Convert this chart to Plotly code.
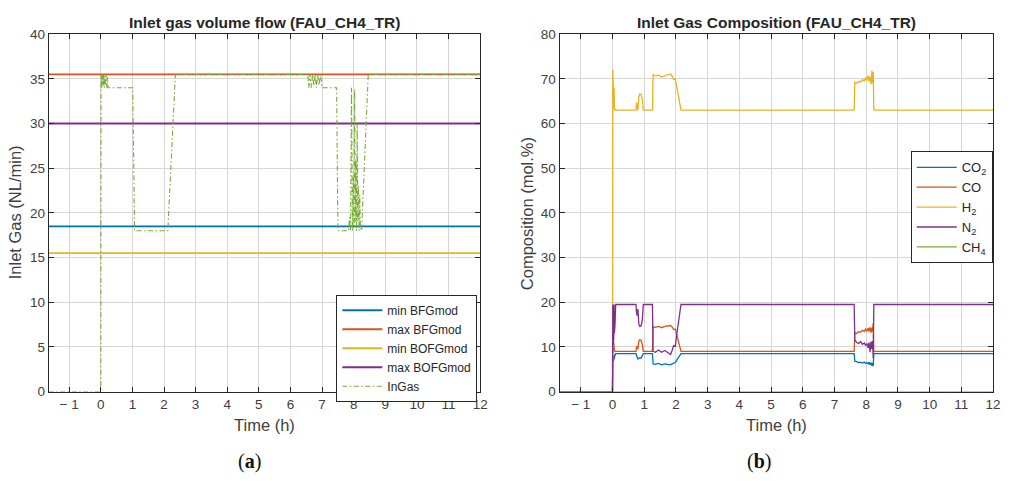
import plotly.graph_objects as go

# ---------------- data: left panel ----------------
x_range_left = [-1.65, 12]
const_names = ["min BFGmod", "max BFGmod", "min BOFGmod", "max BOFGmod"]
const_values = [18.5, 35.5, 15.5, 30.0]

t_in = [-1.65, 0.0, 0.01, 0.03, 0.05, 0.07, 0.09, 0.11, 0.13, 0.15, 0.17, 0.19, 0.21, 0.23, 0.26,
        1.01, 1.07, 2.12, 2.36, 6.55, 6.58, 6.62, 6.66, 6.70, 6.74, 6.78, 6.82, 6.86, 6.90, 6.95,
        7.00, 7.46, 7.50, 7.84, 7.87, 7.90, 7.93, 7.96, 7.99, 8.01, 8.03, 8.05, 8.07, 8.09, 8.11,
        8.13, 8.15, 8.17, 8.19, 8.21, 8.25, 8.46, 12.0]
v_in = [0, 0, 35.5, 34, 35.5, 34.2, 35.5, 34, 35.3, 34.4, 35.5, 34, 35.2, 34, 34,
        34, 18, 18, 35.5, 35.5, 34, 35.5, 34, 35.5, 34.2, 35.5, 34, 35.5, 34.3, 35.5,
        34, 34, 18, 18, 19.5, 18, 34, 18, 24, 18.5, 33.8, 19, 26, 18, 30,
        19, 23, 18, 22, 18.5, 18, 35.5, 35.5]

# ---------------- data: right panel ----------------
t_comp = [-1.65, 0.0, 0.01, 0.02, 0.03, 0.04, 0.05, 0.06, 0.07, 0.08, 0.10, 0.12, 0.15, 0.74,
          0.76, 0.78, 0.80, 0.83, 0.86, 0.90, 0.94, 0.97, 1.00, 1.26, 1.28, 1.35, 1.45, 1.55,
          1.65, 1.75, 1.83, 1.88, 1.93, 1.98, 2.02, 2.16, 7.62, 7.64, 7.70, 7.76, 7.82, 7.88,
          7.94, 7.98, 8.02, 8.06, 8.09, 8.12, 8.15, 8.18, 8.20, 8.22, 8.24, 12.0]
co2 = [0, 0, 7.0, 6.6, 7.8, 7.0, 8.0, 7.4, 8.3, 8.0, 8.5, 8.5, 8.5, 8.5,
       8.0, 7.5, 7.3, 7.4, 7.6, 7.5, 8.0, 8.5, 8.5, 8.5, 6.2, 6.1, 6.3, 6.0,
       6.2, 6.1, 6.0, 6.2, 6.4, 6.5, 7.0, 8.5, 8.5, 6.8, 6.7, 6.5, 6.6, 6.4,
       6.6, 6.3, 6.5, 6.2, 6.6, 6.0, 6.5, 5.8, 6.4, 5.7, 8.5, 8.5]
co = [0, 0, 9.5, 12, 9, 11, 9.5, 9, 9.2, 9, 9, 9, 9, 9,
      10, 10.2, 9.5, 11.3, 11.6, 11.5, 10.5, 9, 9, 9, 14.6, 14.4, 14.6, 14.3,
      14.6, 14.7, 14.8, 14.5, 13.9, 14.0, 12.8, 9, 9, 13.2, 13.0, 13.4, 13.3, 13.7,
      13.5, 14.0, 13.6, 14.2, 13.5, 14.4, 13.2, 14.3, 13.5, 15.3, 9, 9]
h2 = [0, 0, 72, 64, 68.5, 63.5, 68, 63, 66, 63.2, 63, 63, 63, 63,
      64.7, 63.2, 63, 66, 66.6, 66.5, 65.5, 63, 63, 63, 71, 70.6, 70.8, 70.4,
      70.7, 70.9, 71.1, 70.6, 69.8, 70.0, 68.5, 63, 63, 69.2, 69.0, 69.4, 69.3, 69.8,
      69.5, 70.3, 69.6, 70.7, 69.4, 70.5, 68.8, 71.8, 69.0, 71.5, 63, 63]
n2 = [0, 0, 19.5, 10.5, 19, 12, 19.5, 13, 19.5, 15, 19.5, 19.5, 19.5, 19.5,
      17.5, 17, 18.5, 15.2, 14.6, 14.7, 16, 19.5, 19.5, 19.5, 9.0, 8.8, 9.3, 8.8,
      9.2, 8.7, 8.3, 9.2, 10.4, 10.0, 12.5, 19.5, 19.5, 11.5, 11.0, 10.8, 11.2, 10.6,
      10.9, 10.3, 10.8, 9.8, 11.0, 8.8, 11.2, 9.5, 11.3, 7.5, 19.5, 19.5]
ch4 = [0] * len(t_comp)

x_ticks = list(range(-1, 13))
x_ticktext = ["\u2212 1" if v < 0 else str(v) for v in x_ticks]

colors = ["#0072BD", "#D95319", "#EDB120", "#7E2F8E", "#77AC30"]

fig = go.Figure()

for name, val, col in zip(const_names, const_values, colors):
    fig.add_trace(go.Scatter(x=x_range_left, y=[val, val], mode="lines", name=name,
                             line=dict(color=col, width=1.8), xaxis="x", yaxis="y",
                             legend="legend"))
fig.add_trace(go.Scatter(x=t_in, y=v_in, mode="lines", name="InGas",
                         line=dict(color=colors[4], width=1.1, dash="5px,2.5px,1.5px,2.5px"),
                         xaxis="x", yaxis="y", legend="legend"))

comp_names = ["CO<sub>2</sub>", "CO", "H<sub>2</sub>", "N<sub>2</sub>", "CH<sub>4</sub>"]
for name, ys, col in zip(comp_names, [co2, co, h2, n2, ch4], colors):
    fig.add_trace(go.Scatter(x=t_comp, y=ys, mode="lines", name=name,
                             line=dict(color=col, width=1.3), xaxis="x2", yaxis="y2",
                             legend="legend2"))

axis_common = dict(showline=True, linecolor="#262626", linewidth=1, mirror="allticks",
                   ticks="inside", ticklen=5, tickcolor="#262626", showgrid=True,
                   gridcolor="#d6d6d6", gridwidth=1.4, zeroline=False,
                   tickfont=dict(family="Liberation Sans, Arial", size=13.5, color="#404040"))

W, H = 1011, 481
def px_x(p): return p / W
def px_y(p): return (H - p) / H

fig.update_layout(
    width=W, height=H, margin=dict(l=0, r=0, t=0, b=0),
    paper_bgcolor="white", plot_bgcolor="white",
    font=dict(family="Liberation Sans, Arial", color="#262626"),
    xaxis=dict(domain=[px_x(49), px_x(484)], range=[-1.65, 12], tickvals=x_ticks,
               ticktext=x_ticktext, anchor="y", **axis_common),
    yaxis=dict(domain=[px_y(397), px_y(28)], range=[0, 40], dtick=5, anchor="x", **axis_common),
    xaxis2=dict(domain=[px_x(564), px_x(1001)], range=[-1.67, 12], tickvals=x_ticks,
                ticktext=x_ticktext, anchor="y2", **axis_common),
    yaxis2=dict(domain=[px_y(397), px_y(28)], range=[0, 80], dtick=10, anchor="x2", **axis_common),
    legend=dict(x=px_x(339), y=px_y(297), xanchor="left", yanchor="top",
                bgcolor="white", bordercolor="#262626", borderwidth=1,
                font=dict(family="Liberation Sans, Arial", size=12, color="#262626"),
                tracegroupgap=0, itemwidth=40),
    legend2=dict(x=px_x(918), y=px_y(149), xanchor="left", yanchor="top",
                 bgcolor="white", bordercolor="#262626", borderwidth=1,
                 font=dict(family="Liberation Sans, Arial", size=13, color="#262626"),
                 tracegroupgap=0, itemwidth=40),
    showlegend=True,
)

ann = []
ann.append(dict(text="<b>Inlet gas volume flow (FAU_CH4_TR)</b>", x=px_x(266.5), y=px_y(16),
                font=dict(size=15.5, color="#262626")))
ann.append(dict(text="<b>Inlet Gas Composition (FAU_CH4_TR)</b>", x=px_x(782.5), y=px_y(16),
                font=dict(size=15.5, color="#262626")))
ann.append(dict(text="Time (h)", x=px_x(266.5), y=px_y(431), font=dict(size=16.5, color="#404040")))
ann.append(dict(text="Time (h)", x=px_x(782.5), y=px_y(431), font=dict(size=16.5, color="#404040")))
ann.append(dict(text="Inlet Gas (NL/min)", x=px_x(16), y=px_y(212), textangle=-90,
                font=dict(size=16.5, color="#404040")))
ann.append(dict(text="Composition (mol.%)", x=px_x(532), y=px_y(213), textangle=-90,
                font=dict(size=16.5, color="#404040")))
ann.append(dict(text="(<b>a</b>)", x=px_x(251), y=px_y(469),
                font=dict(family="Liberation Serif, Times New Roman", size=20, color="#111111")))
ann.append(dict(text="(<b>b</b>)", x=px_x(765), y=px_y(469),
                font=dict(family="Liberation Serif, Times New Roman", size=20, color="#111111")))
for a in ann:
    a.update(xref="paper", yref="paper", showarrow=False, xanchor="center", yanchor="middle")
    if "family" not in a["font"]:
        a["font"]["family"] = "Liberation Sans, Arial"
fig.update_layout(annotations=ann)

fig.write_html("out.html")
